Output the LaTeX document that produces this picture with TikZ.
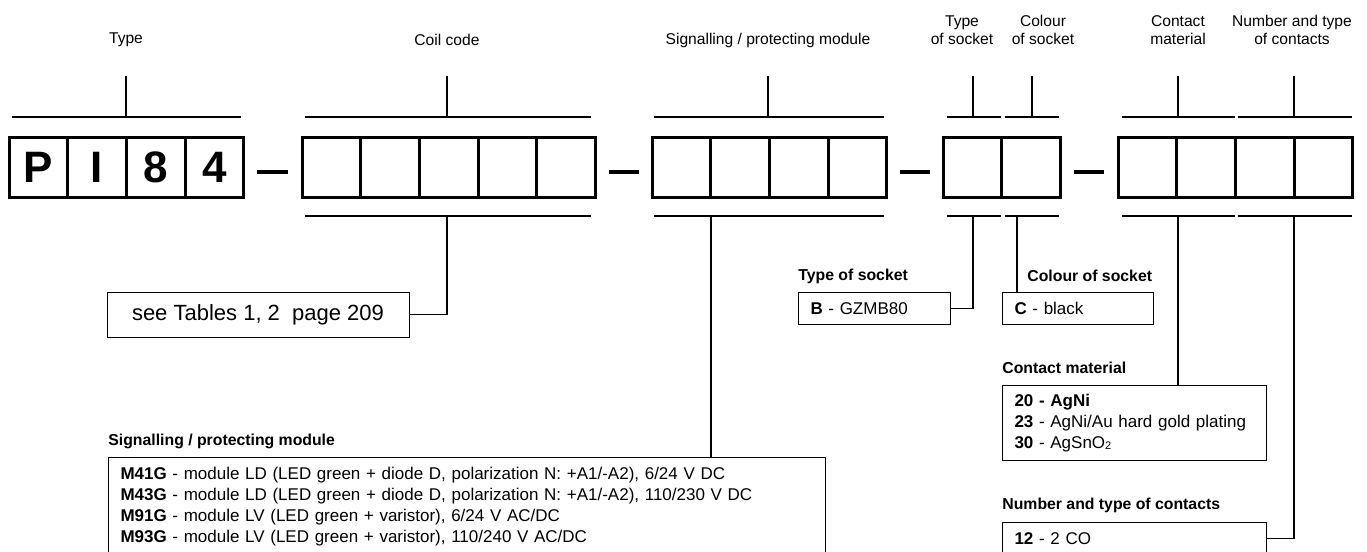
\documentclass[tikz,border=0pt]{standalone}
\usepackage{fontspec}
\setmainfont{Liberation Sans}
\usetikzlibrary{calc}

\begin{document}
\begin{tikzpicture}[x=0.5pt,y=-0.5pt,
cell/.style={draw,line width=1.5pt,minimum width=29.35pt,minimum height=30pt,inner sep=0pt,font=\fontsize{22}{22}\selectfont\bfseries},
brk/.style={line width=0.85pt},
tick/.style={line width=0.65pt},
sep/.style={line width=2pt},
wire/.style={line width=0.6pt},
lab/.style={font=\fontsize{7.8}{9}\selectfont,align=center},
ttl/.style={font=\fontsize{7.9}{9.5}\selectfont\bfseries,anchor=west,inner sep=0pt},
info/.style={draw,line width=0.5pt,font=\fontsize{8.5}{10.6}\selectfont,align=left,anchor=north west,inner xsep=6pt,inner ysep=0pt}]
\useasboundingbox (0,0) rectangle (1367,552);
\clip (0,0) rectangle (1367,552);
% code cells
\foreach \l [count=\i] in {P,I,8,4}{\node[cell] (t\i) at (9+58.7*\i-29.35,167) {\l};}
\foreach \g/\x/\k in {c/302/5,s/652/4,k/943/2,m/1118/4}{\foreach \i in {1,...,\k}{\node[cell] (\g\i) at (\x+58.7*\i-29.35,167) {};}}
\foreach \a/\b in {t4/c1,c5/s1,s4/k1,k2/m1}{\draw[sep] ($(\a.east)!0.22!(\b.west)+(0,5)$)--($(\a.east)!0.78!(\b.west)+(0,5)$);}
% brackets above and below
\foreach \a/\b/\c in {12/241/126,305/591/447,654/884/768,947/1001/973,1005/1059/1032,1122/1235/1178,1238/1352/1294}{\draw[brk] (\a,117)--(\b,117); \draw[tick] (\c,117)--(\c,76);}
\foreach \a/\b in {305/591,654/884,947/1001,1005/1059,1122/1235,1238/1352}{\draw[brk] (\a,216)--(\b,216);}
\foreach \n/\c in {bc/447,bs/711,bk/973,bl/1017,bm/1178,bn/1294}{\coordinate (\n) at (\c,216);}
\node[lab] (ltype) at (126,40) {Type};
\node[lab] (lcoil) at (447,40) {Coil code};
\node[lab] (lsig) at (768,40) {Signalling / protecting module};
\node[lab] (lsock) at (962,30) {Type\\of socket};
\node[lab] (lcol) at (1043,30) {Colour\\of socket};
\node[lab] (lmat) at (1178,30) {Contact\\material};
\node[lab] (lnum) at (1292,30) {Number and type\\of contacts};
% option tables
\node[draw,line width=0.5pt,minimum width=151pt,minimum height=22.5pt,font=\fontsize{11}{13}\selectfont] (tables) at (258,314.5) {see Tables 1, 2\ \ page 209};
\node[ttl] (tsig) at (108,441) {Signalling / protecting module};
\node[info,text width=346.5pt,minimum height=49pt] (sig) at (108,457) {\textbf{M41G} - module LD (LED green + diode D, polarization N: +A1/-A2), 6/24 V DC\\\textbf{M43G} - module LD (LED green + diode D, polarization N: +A1/-A2), 110/230 V DC\\\textbf{M91G} - module LV (LED green + varistor), 6/24 V AC/DC\\\textbf{M93G} - module LV (LED green + varistor), 110/240 V AC/DC};
\node[ttl] (tsock) at (798,276) {Type of socket};
\node[info,text width=64pt,minimum height=16pt] (sock) at (798,292) {\textbf{B} - GZMB80};
\node[ttl] (tcol) at (1027,276) {Colour of socket};
\node[info,text width=63.5pt,minimum height=16pt] (col) at (1002,292) {\textbf{C} - black};
\node[ttl] (tmat) at (1002,368) {Contact material};
\node[info,text width=120pt,minimum height=37.5pt] (mat) at (1002,385) {\textbf{20 - AgNi}\\\textbf{23} - AgNi/Au hard gold plating\\\textbf{30} - AgSnO\raisebox{-0.4pt}{\fontsize{5.5}{6}\selectfont 2}};
\node[ttl] (tnum) at (1002,505) {Number and type of contacts};
\node[info,text width=120pt,minimum height=16pt] (num) at (1002,522) {\textbf{12} - 2 CO};
\draw[wire] (bc) |- (tables.east);
\draw[wire] (bs) -- (bs |- sig.north);
\draw[wire] (bk) |- (sock.east);
\draw[wire] (bl) -- (bl |- col.north);
\draw[wire] (bm) -- (bm |- mat.north);
\draw[wire] (bn) |- (num.east);
\end{tikzpicture}
\end{document}
